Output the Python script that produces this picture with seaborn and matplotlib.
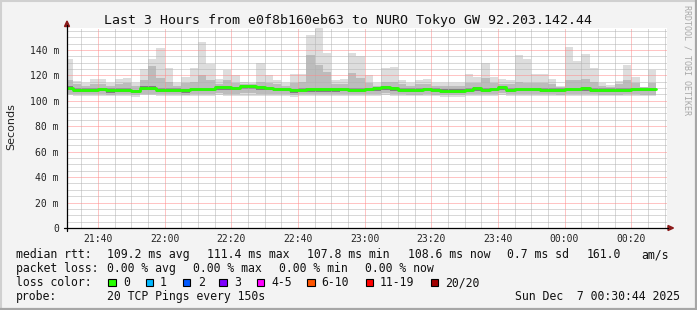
import numpy as np
import pandas as pd
import matplotlib
matplotlib.use("Agg")
import matplotlib.pyplot as plt
import matplotlib.dates as mdates
from matplotlib.ticker import MultipleLocator, FuncFormatter
from matplotlib.lines import Line2D
from matplotlib.patches import Polygon, Rectangle
import seaborn as sns

# ---------------- data ----------------
start_time = "2025-12-06 21:30:00"
step = "150s"
view_start = "2025-12-06 21:30:44"
view_end = "2025-12-07 00:30:44"

median_ms = [110.3,108.7,108.7,108.7,109.3,108.7,108.7,108.7,107.8,110.3,
             110.3,108.7,108.7,108.7,108.5,109.1,109.1,109.1,110.5,110.5,
             110.0,111.4,111.4,110.7,110.0,109.3,109.3,108.2,108.7,109.0,
             109.0,109.0,109.0,109.3,108.7,108.7,109.1,109.7,110.5,109.7,
             108.7,108.7,108.7,109.1,108.7,108.0,108.0,108.0,108.7,109.7,
             108.7,109.1,110.5,108.7,109.1,109.1,109.1,108.7,108.7,108.7,
             109.1,109.1,109.7,108.7,108.7,108.7,108.7,108.7,109.1,109.1,109.1]

max_ms = [133.0,115.5,113.7,117.0,117.0,113.7,117.0,118.0,113.7,125.0,
          133.0,141.4,125.5,113.7,119.0,125.5,146.0,128.7,116.9,124.2,
          120.3,114.5,114.3,129.5,120.3,116.3,114.0,120.8,120.8,151.8,
          157.6,137.4,116.3,117.0,137.9,134.8,120.3,114.2,125.5,126.6,
          116.3,114.2,116.3,117.1,113.7,113.7,114.2,113.7,120.8,119.0,
          130.0,118.5,117.0,116.3,136.0,133.0,121.0,121.0,117.0,111.6,
          142.6,131.3,136.9,125.5,114.2,112.4,115.5,128.5,118.7,111.0,124.2]

upper_ms = [116,113,112,113,113,112,113,114,112,116,
            127,118,115,112,114,115,120,116,113,116,
            114,113,113,115,114,113,112,114,115,136,
            128,123,113,113,122,118,114,112,115,115,
            113,112,113,113,112,112,112,112,114,114,
            118,114,113,113,115,114,114,114,113,111,
            116,116,117,115,112,111,113,116,114,110.8,114]

q3_ms = [111.3,109.7,109.7,109.7,110.3,109.7,109.7,109.7,108.8,111.3,
         111.3,109.7,109.7,109.7,109.5,110.1,110.1,110.1,111.5,111.5,
         111.0,112.4,112.4,111.7,111.0,110.3,110.3,109.2,109.7,110.0,
         110.0,110.0,110.0,110.3,109.7,109.7,110.1,110.7,111.5,110.7,
         109.7,109.7,109.7,110.1,109.7,109.0,109.0,109.0,109.7,110.7,
         109.7,110.1,111.5,109.7,110.1,110.1,110.1,109.7,109.7,109.7,
         110.1,110.1,110.7,109.7,109.7,109.7,109.7,109.7,110.1,110.1,110.1]

q1_ms = [108.5,106.9,106.9,106.9,107.5,106.5,106.9,106.9,106.0,108.3,
         108.3,106.9,106.9,106.9,106.5,107.3,107.3,107.3,108.5,108.5,
         108.2,109.5,109.5,108.8,108.2,107.5,107.5,106.2,106.9,107.2,
         107.2,107.2,107.2,107.5,106.9,106.9,107.3,107.9,108.5,107.9,
         106.9,106.7,106.7,107.3,106.7,106.0,106.0,106.0,106.9,107.9,
         106.9,107.3,108.5,106.9,107.3,107.3,107.3,106.9,106.9,106.7,
         107.3,107.3,107.9,106.9,106.7,106.7,106.7,106.9,107.3,107.3,107.3]

lower_ms = [105.5,105.2,105.2,105.0,105.3,104.8,105.2,105.2,104.5,105.5,
            105.5,105.2,105.2,105.0,104.8,105.3,105.3,105.3,105.8,105.5,
            105.5,105.8,105.8,105.5,105.3,105.2,105.2,104.5,105.0,105.2,
            105.2,105.2,105.0,105.3,105.0,105.0,105.3,105.5,105.8,105.5,
            105.0,104.8,104.8,105.2,104.8,104.5,104.5,104.5,105.0,105.5,
            105.0,105.2,105.8,105.0,105.2,105.2,105.2,105.0,105.0,104.8,
            105.2,105.2,105.5,105.0,104.8,104.8,104.8,105.0,105.2,104.8,104.8]

min_ms = [104.5,104.0,104.0,103.8,104.0,103.5,104.0,104.0,103.0,104.5,
          104.5,104.0,104.0,103.8,103.5,104.0,104.0,104.0,104.5,104.0,
          104.0,104.0,104.0,104.0,104.0,104.0,104.0,103.2,103.8,104.0,
          104.0,104.0,103.8,104.0,103.8,103.8,104.0,104.0,104.5,104.0,
          103.8,103.5,103.5,104.0,103.5,103.2,103.2,103.2,103.8,104.0,
          103.8,104.0,104.5,103.8,104.0,104.0,104.0,103.8,103.8,103.5,
          104.0,104.0,104.0,103.8,103.5,103.5,103.5,103.8,104.0,103.5,103.5]

title = "Last 3 Hours from e0f8b160eb63 to NURO Tokyo GW 92.203.142.44"
rtt_label = "median rtt:"
rtt_items = ["109.2 ms avg", "111.4 ms max", "107.8 ms min", "108.6 ms now",
             "0.7 ms sd", "161.0", "am/s"]
loss_label = "packet loss:"
loss_items = ["0.00 % avg", "0.00 % max", "0.00 % min", "0.00 % now"]
color_label = "loss color:"
loss_names = ["0", "1", "2", "3", "4-5", "6-10", "11-19", "20/20"]
loss_colors = ["#26ff00", "#00b8ff", "#0059ff", "#7e00ff", "#ff00ff",
               "#ff5500", "#ff0000", "#a10000"]
probe_label = "probe:"
probe_text = "20 TCP Pings every 150s"
date_text = "Sun Dec  7 00:30:44 2025"
watermark = "RRDTOOL / TOBI OETIKER"

# ---------------- figure ----------------
sns.set_style("white")
plt.rcParams['font.family'] = ['DejaVu Sans Mono', 'DejaVu Sans']

W, H, DPI = 697, 310, 100
BG = "#f3f3f3"
fig = plt.figure(figsize=(W / DPI, H / DPI), dpi=DPI, facecolor=BG)


def fx(px):
    return px / W


def fy(py):
    return 1 - py / H


ax = fig.add_axes([fx(67), fy(228), 600 / W, 200 / H])
ax.set_facecolor("white")

n = len(median_ms)
times = pd.date_range(start_time, periods=n + 1, freq=step)
xe = times.to_pydatetime()


def ext(a):
    a = np.asarray(a, dtype=float)
    return np.append(a, a[-1])


for lo, hi, col in [(min_ms, max_ms, "#dddddd"),
                    (lower_ms, upper_ms, "#bcbcbc"),
                    (q1_ms, q3_ms, "#7f7f7f")]:
    ax.fill_between(xe, ext(lo), ext(hi), step="post", color=col, lw=0, zorder=1)

med_df = pd.DataFrame({"time": xe, "median": ext(median_ms)})
sns.lineplot(data=med_df, x="time", y="median", drawstyle="steps-post",
             color="#26ff00", lw=2.0, ax=ax, zorder=3, estimator=None)
ax.set_xlabel("")
ax.set_ylabel("")

ax.set_xlim(pd.Timestamp(view_start).to_pydatetime(), pd.Timestamp(view_end).to_pydatetime())
ax.set_ylim(0, 157.2)

ax.xaxis.set_major_locator(mdates.MinuteLocator(byminute=[0, 20, 40]))
ax.xaxis.set_minor_locator(mdates.MinuteLocator(byminute=range(0, 60, 5)))
ax.xaxis.set_major_formatter(mdates.DateFormatter("%H:%M"))
ax.yaxis.set_major_locator(MultipleLocator(20))
ax.yaxis.set_minor_locator(MultipleLocator(5))
ax.yaxis.set_major_formatter(FuncFormatter(lambda v, p: "0" if abs(v) < 1e-9 else f"{int(round(v))} m"))

ax.set_axisbelow(False)
ax.grid(which="major", color="#ff8a8a", ls=(0, (1, 1)), lw=0.72)
ax.grid(which="minor", color="#b2b2b2", ls=(0, (1, 1)), lw=0.72)

for s in ["top", "right", "left", "bottom"]:
    ax.spines[s].set_visible(False)

ax.tick_params(which="major", length=3, width=0.72, color="black", direction="out",
               labelsize=7, labelcolor="#222222")
ax.tick_params(which="minor", length=2, width=0.72, color="black", direction="out")
ax.tick_params(axis="x", which="major", pad=1.0)
ax.tick_params(axis="y", which="major", pad=2.8)

# axis lines with arrows
fig.add_artist(Line2D([fx(67), fx(67)], [fy(231), fy(25)], color="black", lw=0.9))
fig.add_artist(Line2D([fx(64), fx(668)], [fy(228), fy(228)], color="black", lw=0.9))
arrow_col = "#8b1a1a"
fig.add_artist(Polygon([[fx(64.5), fy(26.5)], [fx(69.5), fy(26.5)], [fx(67), fy(21)]],
                       closed=True, color=arrow_col, transform=fig.transFigure))
fig.add_artist(Polygon([[fx(668), fy(225.5)], [fx(668), fy(230.5)], [fx(673.5), fy(228)]],
                       closed=True, color=arrow_col, transform=fig.transFigure))

# title, labels
fig.text(fx(347.5), fy(24), title, ha="center", va="baseline", fontsize=9.5, color="#111111")
fig.text(fx(11), fy(127), "Seconds", rotation=90, ha="center", va="center",
         fontsize=8, family="DejaVu Sans", color="#222222")
fig.text(fx(687), fy(5), watermark, rotation=-90, ha="center", va="top",
         fontsize=6, color="#a8a8a8")

LFS = 8.3
TXT = "#111111"
fig.text(fx(16), fy(258), rtt_label, ha="left", va="baseline", fontsize=LFS, color=TXT)
for xpos, s in zip([107.3, 207.3, 307.0, 408.3, 506.7, 586.7, 641.7], rtt_items):
    fig.text(fx(xpos), fy(258), s, ha="left", va="baseline", fontsize=LFS, color=TXT)

fig.text(fx(16), fy(272), loss_label, ha="left", va="baseline", fontsize=LFS, color=TXT)
for xpos, s in zip([107.3, 193.3, 279.3, 365.0], loss_items):
    fig.text(fx(xpos), fy(272), s, ha="left", va="baseline", fontsize=LFS, color=TXT)

fig.text(fx(16), fy(286), color_label, ha="left", va="baseline", fontsize=LFS, color=TXT)
box_x = [108.3, 145.7, 182.7, 219.3, 256.7, 307.3, 365.7, 430.7]
lab_x = [123.3, 160.0, 197.7, 234.3, 271.7, 321.7, 380.0, 445.0]
for bx, lx, name, col in zip(box_x, lab_x, loss_names, loss_colors):
    fig.add_artist(Rectangle((fx(bx), fy(286)), 7.5 / W, 7.5 / H, facecolor=col,
                             edgecolor="black", lw=0.8, transform=fig.transFigure))
    fig.text(fx(lx), fy(286), name, ha="left", va="baseline", fontsize=LFS, color=TXT)

fig.text(fx(16), fy(300), probe_label, ha="left", va="baseline", fontsize=LFS, color=TXT)
fig.text(fx(107.3), fy(300), probe_text, ha="left", va="baseline", fontsize=LFS, color=TXT)
fig.text(fx(680), fy(300), date_text, ha="right", va="baseline", fontsize=LFS, color=TXT)

# canvas border
fig.add_artist(Line2D([0, 1], [fy(1), fy(1)], color="#d0d0d0", lw=1.5))
fig.add_artist(Line2D([fx(1), fx(1)], [0, 1], color="#d0d0d0", lw=1.5))
fig.add_artist(Line2D([0, 1], [fy(309), fy(309)], color="#a6a6a6", lw=1.6))
fig.add_artist(Line2D([fx(696), fx(696)], [0, 1], color="#a6a6a6", lw=1.6))

fig.savefig("out.png", dpi=DPI, facecolor=BG)
